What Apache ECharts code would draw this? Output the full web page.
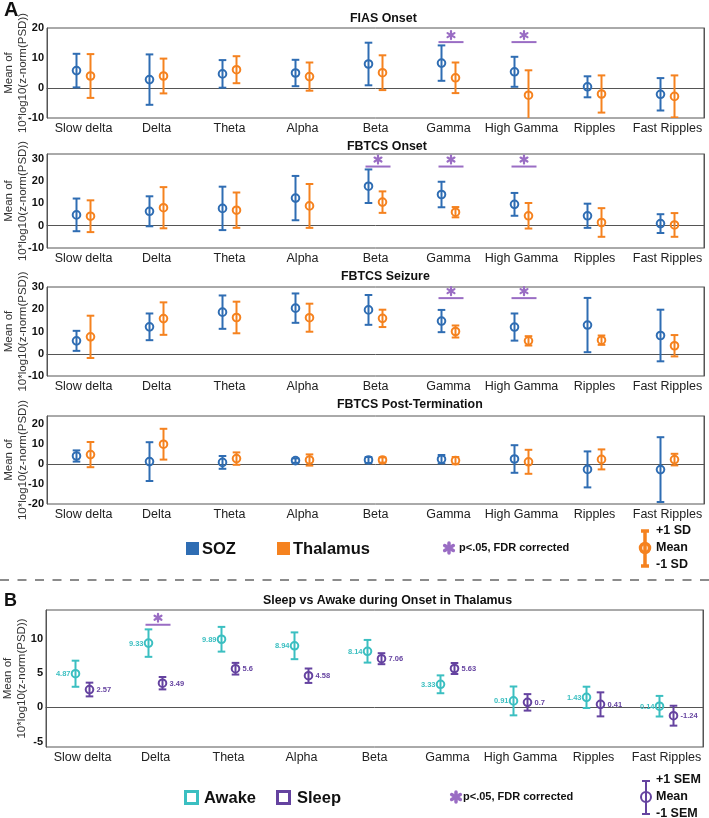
<!DOCTYPE html>
<html>
<head>
<meta charset="utf-8">
<script src="https://cdn.jsdelivr.net/npm/echarts@6/dist/echarts.min.js"></script>
<style>
  html, body { margin: 0; padding: 0; background: #fff; }
  #chart { width: 709px; height: 818px; }
</style>
</head>
<body>
<div id="chart"></div>
<script>
const bands = ["Slow delta", "Delta", "Theta", "Alpha", "Beta", "Gamma", "High Gamma", "Ripples", "Fast Ripples"];

// panel A: mean and SD per band
const fiasSozMean = [5.8, 2.8, 4.7, 5.0, 8.0, 8.3, 5.4, 0.4, -2.1];
const fiasSozSd = [5.6, 8.4, 4.6, 4.4, 7.1, 5.9, 5.0, 3.5, 5.4];
const fiasThalMean = [4.0, 4.0, 6.1, 3.8, 5.1, 3.4, -2.4, -2.0, -2.8];
const fiasThalSd = [7.3, 5.8, 4.5, 4.7, 5.8, 5.1, 8.3, 6.2, 7.0];

const onsetSozMean = [4.8, 6.4, 7.7, 12.3, 17.6, 13.9, 9.5, 4.4, 0.9];
const onsetSozSd = [7.3, 6.7, 9.7, 9.9, 7.5, 5.7, 5.1, 5.4, 4.2];
const onsetThalMean = [4.2, 8.0, 6.9, 8.8, 10.5, 6.0, 4.4, 1.4, 0.3];
const onsetThalSd = [7.1, 9.2, 7.9, 9.8, 4.8, 2.3, 5.7, 6.4, 5.3];

const seizSozMean = [5.8, 12.1, 18.7, 20.5, 19.7, 14.7, 12.0, 12.9, 8.2];
const seizSozSd = [4.5, 6.0, 7.5, 6.6, 6.7, 5.0, 6.1, 12.2, 11.6];
const seizThalMean = [7.6, 15.8, 16.3, 16.2, 15.9, 10.0, 5.8, 6.1, 3.6];
const seizThalSd = [9.5, 7.3, 7.1, 6.3, 3.9, 2.7, 2.1, 2.1, 4.8];

const postSozMean = [4.0, 1.2, 0.8, 1.7, 2.0, 2.4, 2.5, -2.7, -2.8];
const postSozSd = [2.8, 9.7, 3.2, 1.1, 1.5, 2.1, 6.9, 9.0, 16.2];
const postThalMean = [4.7, 9.9, 2.7, 2.0, 2.0, 1.7, 1.1, 2.3, 2.2];
const postThalSd = [6.3, 7.7, 3.1, 2.8, 1.3, 1.8, 6.0, 5.0, 2.9];

// panel B: thalamus onset, mean and SEM
const awakeMean = [4.87, 9.33, 9.89, 8.94, 8.14, 3.33, 0.91, 1.43, 0.14];
const awakeSem = [1.9, 2.0, 1.8, 1.95, 1.65, 1.3, 2.1, 1.55, 1.5];
const sleepMean = [2.57, 3.49, 5.6, 4.58, 7.06, 5.63, 0.7, 0.41, -1.24];
const sleepSem = [1.0, 0.9, 0.85, 1.05, 0.8, 0.8, 1.2, 1.75, 1.45];

// significance marks: [band index, bar height]
const fiasSig = [[5, 15.3], [6, 15.3]];
const onsetSig = [[4, 26.4], [5, 26.4], [6, 26.4]];
const seizSig = [[5, 25.0], [6, 25.0]];
const postSig = [];
const sleepSig = [[1, 12.0]];

// y tick labels
const fiasTicks = [-10, 0, 10, 20];
const onsetTicks = [-10, 0, 10, 20, 30];
const seizTicks = [-10, 0, 10, 20, 30];
const postTicks = [-20, -10, 0, 10, 20];
const sleepTicks = [-5, 0, 5, 10];

const font = "'Liberation Sans', Arial, Helvetica, sans-serif";
const axisColor = "#555";
const sozColor = "#2f6db3";
const thalColor = "#f5821f";
const sigColor = "#9a6dc4";
const awakeColor = "#3bbfc1";
const sleepColor = "#6543a0";

const panels = [
  { top: 28, height: 90, left: 47, min: -10, max: 20, ticks: fiasTicks, sig: fiasSig,
    a: [fiasSozMean, fiasSozSd, sozColor], b: [fiasThalMean, fiasThalSd, thalColor] },
  { top: 154, height: 94, left: 47, min: -10, max: 32, ticks: onsetTicks, sig: onsetSig,
    a: [onsetSozMean, onsetSozSd, sozColor], b: [onsetThalMean, onsetThalSd, thalColor] },
  { top: 287, height: 89, left: 47, min: -10, max: 30, ticks: seizTicks, sig: seizSig,
    a: [seizSozMean, seizSozSd, sozColor], b: [seizThalMean, seizThalSd, thalColor] },
  { top: 416, height: 88, left: 47, min: -20, max: 24, ticks: postTicks, sig: postSig,
    a: [postSozMean, postSozSd, sozColor], b: [postThalMean, postThalSd, thalColor] },
  { top: 610, height: 137, left: 46, min: -5.8, max: 14.15, ticks: sleepTicks, sig: sleepSig, labels: true,
    a: [awakeMean, awakeSem, awakeColor], b: [sleepMean, sleepSem, sleepColor] }
];

function errorBar(color, dx, labelSide) {
  return function (params, api) {
    const i = api.value(0), m = api.value(1), s = api.value(2);
    const c = api.coord([i, m]);
    const top = api.coord([i, m + s])[1];
    const bot = api.coord([i, m - s])[1];
    const x = c[0] + dx;
    const st = { stroke: color, lineWidth: 2, fill: null };
    const kids = [
      { type: "line", shape: { x1: x, y1: top, x2: x, y2: bot }, style: st },
      { type: "line", shape: { x1: x - 3.8, y1: top, x2: x + 3.8, y2: top }, style: st },
      { type: "line", shape: { x1: x - 3.8, y1: bot, x2: x + 3.8, y2: bot }, style: st },
      { type: "circle", shape: { cx: x, cy: c[1], r: 3.8 }, style: st }
    ];
    if (labelSide) {
      const left = labelSide === "left";
      kids.push({
        type: "text",
        style: {
          text: String(m), x: left ? x - 5 : x + 7, y: c[1] + 0.5,
          fill: color, font: "bold 7.5px " + font,
          align: left ? "right" : "left", textAlign: left ? "right" : "left",
          verticalAlign: "middle", textVerticalAlign: "middle"
        }
      });
    }
    return { type: "group", children: kids };
  };
}

function asterisk(cx, cy, r, lw) {
  const st = { stroke: sigColor, lineWidth: lw, lineCap: "round" };
  const out = [];
  for (let k = 0; k < 3; k++) {
    const a = Math.PI / 2 + k * Math.PI / 3;
    const dx = Math.cos(a) * r, dy = Math.sin(a) * r;
    out.push({ type: "line", shape: { x1: cx - dx, y1: cy - dy, x2: cx + dx, y2: cy + dy }, style: st });
  }
  return out;
}

function sigMark(params, api) {
  const p = api.coord([api.value(0), api.value(1)]);
  const x = p[0], y = p[1];
  return {
    type: "group",
    children: [
      { type: "line", shape: { x1: x - 10, y1: y, x2: x + 15, y2: y }, style: { stroke: sigColor, lineWidth: 2 } }
    ].concat(asterisk(x + 2.5, y - 7, 4, 2.2))
  };
}

const grid = [], xAxis = [], yAxis = [], series = [];
panels.forEach(function (p, gi) {
  grid.push({ left: p.left, width: 657, top: p.top, height: p.height, show: true,
    borderColor: axisColor, borderWidth: 1, containLabel: false, outerBoundsMode: "none" });
  xAxis.push({
    gridIndex: gi, type: "category", data: bands, boundaryGap: true,
    axisLine: { lineStyle: { color: axisColor } },
    axisTick: { inside: true, alignWithLabel: true, length: 5, lineStyle: { color: axisColor } },
    axisLabel: { interval: 0, color: "#222", fontSize: 12.5, fontFamily: font, margin: 4, hideOverlap: false },
    splitLine: { show: false }
  });
  const yBase = {
    gridIndex: gi, type: "value", min: p.min, max: p.max,
    axisLine: { show: true, lineStyle: { color: axisColor } },
    splitLine: { show: false }
  };
  yAxis.push(Object.assign({}, yBase, {
    position: "left",
    name: "Mean of\n10*log10(z-norm(PSD))", nameLocation: "middle", nameRotate: 90, nameGap: 17,
    nameMoveOverlap: false,
    nameTextStyle: { fontSize: 11.5, lineHeight: 14, color: "#333", fontFamily: font },
    axisTick: { inside: true, length: 4, customValues: p.ticks, lineStyle: { color: axisColor } },
    axisLabel: { customValues: p.ticks, color: "#111", fontSize: 11, fontWeight: "bold", fontFamily: font, margin: 3 }
  }));
  yAxis.push(Object.assign({}, yBase, {
    position: "right",
    axisTick: { inside: true, length: 4, customValues: p.ticks, lineStyle: { color: axisColor } },
    axisLabel: { show: false, customValues: p.ticks }
  }));
  [[p.a, -7, p.labels ? "left" : null], [p.b, 7, p.labels ? "right" : null]].forEach(function (g) {
    const mean = g[0][0], sd = g[0][1], color = g[0][2];
    series.push({
      type: "custom", xAxisIndex: gi, yAxisIndex: 2 * gi, clip: true,
      encode: { x: 0, y: 1 },
      data: bands.map(function (b, i) { return [i, mean[i], sd[i]]; }),
      renderItem: errorBar(color, g[1], g[2]),
      silent: true
    });
  });
  if (p.sig.length) {
    series.push({
      type: "custom", xAxisIndex: gi, yAxisIndex: 2 * gi,
      encode: { x: 0, y: 1 }, data: p.sig, renderItem: sigMark, silent: true
    });
  }
});

function txt(x, y, text, size, opts) {
  opts = opts || {};
  return {
    type: "text", silent: true,
    style: {
      x: x, y: y, text: text, fill: opts.color || "#111",
      font: (opts.weight || "bold") + " " + size + "px " + font,
      align: opts.align || "left", textAlign: opts.align || "left",
      verticalAlign: "middle", textVerticalAlign: "middle"
    }
  };
}

function barIcon(x, yTop, yBot, yMid, color, lw, r, cap) {
  const st = { stroke: color, lineWidth: lw, fill: null };
  return [
    { type: "line", shape: { x1: x, y1: yTop, x2: x, y2: yBot }, style: st },
    { type: "line", shape: { x1: x - cap, y1: yTop, x2: x + cap, y2: yTop }, style: st },
    { type: "line", shape: { x1: x - cap, y1: yBot, x2: x + cap, y2: yBot }, style: st },
    { type: "circle", shape: { cx: x, cy: yMid, r: r }, style: st }
  ];
}

const graphic = [
  txt(4, 10, "A", 20),
  txt(4, 601, "B", 18),
  txt(350, 19, "FIAS Onset", 12.4),
  txt(347, 147, "FBTCS Onset", 12.4),
  txt(341, 277, "FBTCS Seizure", 12.4),
  txt(337, 405, "FBTCS Post-Termination", 12.4),
  txt(263, 601, "Sleep vs Awake during Onset in Thalamus", 12.4),
  // panel A legend
  { type: "rect", shape: { x: 186, y: 542, width: 13, height: 13 }, style: { fill: sozColor } },
  txt(202, 549, "SOZ", 16.5),
  { type: "rect", shape: { x: 277, y: 542, width: 13, height: 13 }, style: { fill: thalColor } },
  txt(293, 549, "Thalamus", 16.5),
  txt(459, 548, "p<.05, FDR corrected", 11),
  txt(656, 531, "+1 SD", 12.5),
  txt(656, 548, "Mean", 12.5),
  txt(656, 565, "-1 SD", 12.5),
  // separator
  { type: "line", shape: { x1: 0, y1: 580, x2: 709, y2: 580 },
    style: { stroke: "#666", lineWidth: 1.5, lineDash: [9, 8.5] } },
  // panel B legend
  { type: "rect", shape: { x: 185.5, y: 791.5, width: 12, height: 12 }, style: { fill: "#fff", stroke: awakeColor, lineWidth: 3 } },
  txt(204, 798, "Awake", 16.5),
  { type: "rect", shape: { x: 277.5, y: 791.5, width: 12, height: 12 }, style: { fill: "#fff", stroke: sleepColor, lineWidth: 3 } },
  txt(297, 798, "Sleep", 16.5),
  txt(463, 797, "p<.05, FDR corrected", 11),
  txt(656, 780, "+1 SEM", 12.5),
  txt(656, 797, "Mean", 12.5),
  txt(656, 814, "-1 SEM", 12.5)
].concat(asterisk(449, 548, 5, 3.5))
 .concat(asterisk(456, 797, 5, 3.5))
 .concat(barIcon(645, 531, 566, 548, thalColor, 3.5, 4.5, 4))
 .concat(barIcon(646, 781, 814, 797, sleepColor, 2, 5, 4));

const chart = echarts.init(document.getElementById("chart"), null, { renderer: "canvas" });
chart.setOption({
  animation: false,
  backgroundColor: "#fff",
  textStyle: { fontFamily: font },
  grid: grid,
  xAxis: xAxis,
  yAxis: yAxis,
  series: series,
  graphic: graphic
});
</script>
</body>
</html>
